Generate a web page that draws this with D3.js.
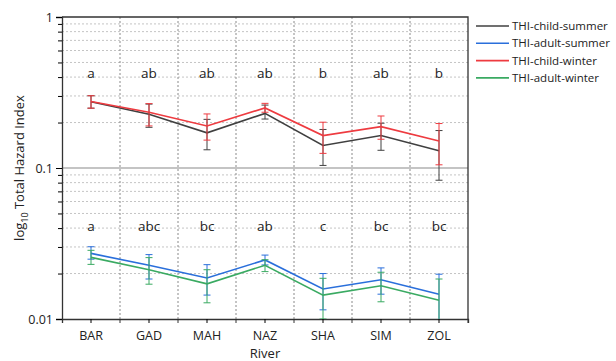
<!DOCTYPE html>
<html>
<head>
<meta charset="utf-8">
<script src="https://cdnjs.cloudflare.com/ajax/libs/d3/7.8.5/d3.min.js"></script>
<style>
  body { margin: 0; background: #fff; }
  text { font-family: "Open Sans", "Noto Sans", sans-serif; fill: #222; }
</style>
</head>
<body>
<svg width="616" height="361"></svg>
<script>
// Rivers along the x axis
var rivers = ["BAR", "GAD", "MAH", "NAZ", "SHA", "SIM", "ZOL"];

// Mean THI values and error bar ends (lower, upper)
var childSummer   = [0.275, 0.227, 0.171, 0.230, 0.141, 0.164, 0.130];
var childSummerLo = [0.249, 0.186, 0.132, 0.211, 0.104, 0.131, 0.083];
var childSummerHi = [0.301, 0.265, 0.210, 0.261, 0.180, 0.198, 0.177];

var adultSummer   = [0.0272, 0.0227, 0.0187, 0.0246, 0.0158, 0.0182, 0.0146];
var adultSummerLo = [0.0249, 0.0184, 0.0144, 0.0228, 0.0115, 0.0146, 0.0090];
var adultSummerHi = [0.0301, 0.0267, 0.0229, 0.0265, 0.0200, 0.0218, 0.0198];

var childWinter   = [0.276, 0.234, 0.190, 0.250, 0.164, 0.188, 0.151];
var childWinterLo = [0.249, 0.190, 0.153, 0.234, 0.125, 0.155, 0.105];
var childWinterHi = [0.301, 0.267, 0.228, 0.268, 0.201, 0.221, 0.197];

var adultWinter   = [0.0256, 0.0212, 0.0171, 0.0227, 0.0144, 0.0166, 0.0133];
var adultWinterLo = [0.0230, 0.0170, 0.0128, 0.0206, 0.0100, 0.0130, 0.0090];
var adultWinterHi = [0.0285, 0.0255, 0.0212, 0.0247, 0.0186, 0.0204, 0.0184];

// significance letters
var childLetters = ["a", "ab", "ab", "ab", "b", "ab", "b"];
var adultLetters = ["a", "abc", "bc", "ab", "c", "bc", "bc"];

var majorTicks = [0.01, 0.1, 1];
var minorTicks = [0.02, 0.03, 0.04, 0.05, 0.06, 0.07, 0.08, 0.09,
                  0.2, 0.3, 0.4, 0.5, 0.6, 0.7, 0.8, 0.9];

var series = [
  { name: "THI-child-summer", color: "#404040", v: childSummer, lo: childSummerLo, hi: childSummerHi },
  { name: "THI-adult-summer", color: "#2a6fdb", v: adultSummer, lo: adultSummerLo, hi: adultSummerHi },
  { name: "THI-child-winter", color: "#ee3b40", v: childWinter, lo: childWinterLo, hi: childWinterHi },
  { name: "THI-adult-winter", color: "#3aaa62", v: adultWinter, lo: adultWinterLo, hi: adultWinterHi }
];

var svg = d3.select("svg");
var mLeft = 62, mRight = 468, mTop = 17, mBottom = 319;

var x = d3.scaleBand().domain(rivers).range([mLeft, mRight]);
var y = d3.scaleLog().domain([0.01, 1]).range([mBottom, mTop]);
var cx = d => x(d) + x.bandwidth() / 2;

svg.append("defs").append("clipPath").attr("id", "plot")
  .append("rect").attr("x", mLeft).attr("y", mTop)
  .attr("width", mRight - mLeft).attr("height", mBottom - mTop);

// dotted grid
svg.append("g").selectAll("line").data(minorTicks).enter().append("line")
  .attr("x1", mLeft).attr("x2", mRight)
  .attr("y1", d => y(d)).attr("y2", d => y(d))
  .attr("stroke", "#c4c4c4").attr("stroke-dasharray", "2,2");

svg.append("g").selectAll("line").data(rivers.slice(1)).enter().append("line")
  .attr("x1", d => x(d)).attr("x2", d => x(d))
  .attr("y1", mTop).attr("y2", mBottom)
  .attr("stroke", "#8a8a8a").attr("stroke-dasharray", "2,2");

// solid line at 0.1
svg.append("line")
  .attr("x1", mLeft).attr("x2", mRight)
  .attr("y1", y(0.1)).attr("y2", y(0.1))
  .attr("stroke", "#8a8a8a").attr("stroke-width", 1.2);

// frame
svg.append("path")
  .attr("d", `M${mLeft},${mTop}H${mRight}V${mBottom}`)
  .attr("fill", "none").attr("stroke", "#333").attr("stroke-width", 1.3);

// y axis
var yAxis = svg.append("g").attr("transform", `translate(${mLeft},0)`)
  .call(d3.axisLeft(y).tickValues(majorTicks).tickSize(6)
    .tickFormat(d => d === 1 ? "1" : d3.format("")(d)));
yAxis.select(".domain").attr("stroke", "#333").attr("stroke-width", 1.3);
yAxis.selectAll("text").attr("font-size", 12.5).attr("fill", "#222");
svg.append("g").attr("transform", `translate(${mLeft},0)`)
  .call(d3.axisLeft(y).tickValues(minorTicks).tickSize(4).tickFormat(""))
  .call(g => g.select(".domain").remove());

// x axis
var xAxis = svg.append("g").attr("transform", `translate(0,${mBottom})`)
  .call(d3.axisBottom(x).tickSize(4).tickPadding(8));
xAxis.select(".domain").attr("stroke", "#333").attr("stroke-width", 1.3);
xAxis.selectAll("text").attr("font-size", 12.5).attr("fill", "#222");
svg.append("g").attr("transform", `translate(0,${mBottom})`)
  .selectAll("line").data(rivers.slice(1).concat(["end"])).enter().append("line")
  .attr("x1", d => d === "end" ? mRight : x(d)).attr("x2", d => d === "end" ? mRight : x(d))
  .attr("y1", 0).attr("y2", 4).attr("stroke", "#333");

// axis titles
svg.append("text").attr("x", (mLeft + mRight) / 2).attr("y", 358)
  .attr("text-anchor", "middle").attr("font-size", 13).text("River");

var yt = svg.append("text")
  .attr("transform", `translate(24,${y(0.1)}) rotate(-90)`)
  .attr("text-anchor", "middle").attr("font-size", 13);
yt.append("tspan").text("log");
yt.append("tspan").attr("font-size", 9).attr("dy", 4).text("10");
yt.append("tspan").attr("dy", -4).text(" Total Hazard Index");

// series
var plot = svg.append("g").attr("clip-path", "url(#plot)");
var line = d3.line().x((d, i) => cx(rivers[i])).y(d => y(d));

series.forEach(s => {
  var g = plot.append("g");
  g.append("path").datum(s.v).attr("d", line)
    .attr("fill", "none").attr("stroke", s.color).attr("stroke-width", 1.6);
  var eb = g.selectAll(".eb").data(rivers).enter().append("g");
  eb.append("line")
    .attr("x1", d => cx(d)).attr("x2", d => cx(d))
    .attr("y1", (d, i) => y(s.lo[i])).attr("y2", (d, i) => y(s.hi[i]))
    .attr("stroke", s.color).attr("stroke-width", 1);
  ["lo", "hi"].forEach(k => {
    eb.append("line")
      .attr("x1", d => cx(d) - 3.5).attr("x2", d => cx(d) + 3.5)
      .attr("y1", (d, i) => y(s[k][i])).attr("y2", (d, i) => y(s[k][i]))
      .attr("stroke", s.color).attr("stroke-width", 1);
  });
});

// letters
svg.append("g").selectAll("text").data(childLetters).enter().append("text")
  .attr("x", (d, i) => cx(rivers[i])).attr("y", 78)
  .attr("text-anchor", "middle").attr("font-size", 13.5).text(d => d);
svg.append("g").selectAll("text").data(adultLetters).enter().append("text")
  .attr("x", (d, i) => cx(rivers[i])).attr("y", 231)
  .attr("text-anchor", "middle").attr("font-size", 13.5).text(d => d);

// legend
var lg = svg.append("g").selectAll("g").data(series).enter().append("g")
  .attr("transform", (d, i) => `translate(476,${26 + i * 17.3})`);
lg.append("line").attr("x1", 0).attr("x2", 33)
  .attr("stroke", d => d.color).attr("stroke-width", 1.6);
lg.append("text").attr("x", 36).attr("y", 4).attr("font-size", 11.5).text(d => d.name);
</script>
</body>
</html>
